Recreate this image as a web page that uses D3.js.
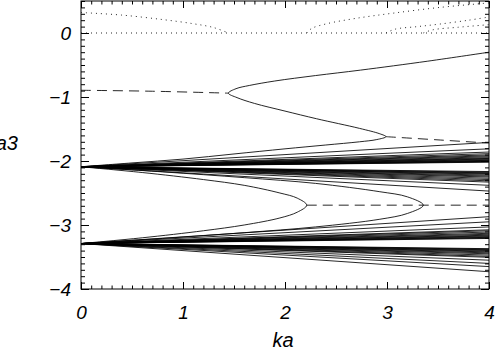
<!DOCTYPE html>
<html>
<head>
<meta charset="utf-8">
<script src="https://cdn.jsdelivr.net/npm/d3@7"></script>
<style>
  body { margin: 0; background: #fff; }
  svg { display: block; }
  text { font-family: "Liberation Sans", Arial, sans-serif; font-style: italic; }
</style>
</head>
<body>
<div id="grafica"></div>
<script>
// valores (ka, valor)
const xTicks = [0, 1, 2, 3, 4];
const yTicks = [-4, -3, -2, -1, 0];

const fanCenters = [-2.09, -3.29];
// desplazamientos de cada rama del abanico en ka = 4
const fanTopUp   = [0.38, 0.28, 0.23, 0.205, 0.185, 0.17, 0.155, 0.14, 0.13, 0.12, 0.11, 0.10, 0.092, 0.085, 0.078, 0.072];
const fanTopDown = [-0.075, -0.085, -0.095, -0.105, -0.115, -0.13, -0.145, -0.16, -0.18, -0.20, -0.22, -0.24, -0.29, -0.38];
const fanLowUp   = [0.08, 0.088, 0.097, 0.107, 0.118, 0.13, 0.145, 0.16, 0.18, 0.20, 0.215, 0.26, 0.34, 0.42];
const fanLowDown = [-0.08, -0.088, -0.097, -0.107, -0.118, -0.13, -0.145, -0.16, -0.18, -0.20, -0.215, -0.26, -0.31, -0.36, -0.44];

const curvaS = [[0,-2.09],[0.5,-2.03],[1.0,-1.97],[1.5,-1.89],[2.0,-1.81],[2.4,-1.75],[2.73,-1.70],[2.9,-1.665],[2.99,-1.62],
  [2.93,-1.575],[2.73,-1.49],[2.31,-1.34],[2.0,-1.22],[1.7,-1.10],[1.53,-1.01],[1.445,-0.94],[1.52,-0.87],[1.65,-0.82],
  [1.9,-0.75],[2.3,-0.665],[2.74,-0.58],[3.4,-0.44],[4,-0.30]];
const curvaV1 = [[0,-2.09],[0.6,-2.18],[1.2,-2.29],[1.6,-2.38],[1.95,-2.50],[2.12,-2.58],[2.213,-2.69],
  [2.12,-2.80],[1.95,-2.89],[1.6,-3.00],[1.2,-3.09],[0.6,-3.20],[0,-3.29]];
const curvaV2 = [[0,-2.09],[0.8,-2.17],[1.6,-2.26],[2.3,-2.35],[2.93,-2.48],[3.2,-2.56],[3.356,-2.69],
  [3.2,-2.82],[2.93,-2.91],[2.3,-3.03],[1.6,-3.12],[0.8,-3.21],[0,-3.29]];

const rayadas = [
  [[0,-0.895],[0.7,-0.91],[1.445,-0.94]],
  [[2.99,-1.62],[3.5,-1.67],[4,-1.72]],
  [[2.213,-2.69],[4,-2.69]]
];
const punteadas = [
  [[0,0],[4,0]],
  [[0,0.32],[0.4,0.28],[0.8,0.21],[1.1,0.145],[1.3,0.085],[1.445,0]],
  [[2.213,0],[2.26,0.07],[2.41,0.145],[2.7,0.23],[3.06,0.31],[3.52,0.40],[4,0.47]],
  [[2.99,0],[3.08,0.06],[3.3,0.10],[3.52,0.14],[3.8,0.20],[4,0.25]],
  [[3.356,0],[3.45,0.05],[3.7,0.09],[4,0.13]]
];

const width = 495, height = 352;
const margin = {top: 1, right: 6, bottom: 63, left: 81};

const svg = d3.select("#grafica").append("svg")
    .attr("width", width)
    .attr("height", height);

const x = d3.scaleLinear().domain([0, 4]).range([margin.left, width - margin.right]);
const y = d3.scaleLinear().domain([-4, 0.5]).range([height - margin.bottom, margin.top]);

svg.append("clipPath").attr("id", "area")
  .append("rect")
    .attr("x", x(0)).attr("y", y(0.5))
    .attr("width", x(4) - x(0)).attr("height", y(-4) - y(0.5));

const linea = d3.line().x(d => x(d[0])).y(d => y(d[1])).curve(d3.curveCatmullRom.alpha(0.5));

const g = svg.append("g").attr("clip-path", "url(#area)")
    .attr("fill", "none").attr("stroke", "#000").attr("stroke-width", 0.85);

// abanicos
let rectas = [];
fanTopUp.concat(fanTopDown).forEach(o => rectas.push([[0, fanCenters[0]], [4, fanCenters[0] + o]]));
fanLowUp.concat(fanLowDown).forEach(o => rectas.push([[0, fanCenters[1]], [4, fanCenters[1] + o]]));

g.selectAll(".recta").data(rectas).join("path")
    .attr("class", "recta")
    .attr("d", linea);

g.selectAll(".curva").data([curvaS, curvaV1, curvaV2]).join("path")
    .attr("class", "curva")
    .attr("d", linea);

g.selectAll(".rayada").data(rayadas).join("path")
    .attr("class", "rayada")
    .attr("stroke-dasharray", "10,6")
    .attr("d", linea);

g.selectAll(".punteada").data(punteadas).join("path")
    .attr("class", "punteada")
    .attr("stroke-dasharray", "1,4")
    .attr("d", linea);

// marco y ticks
svg.append("rect")
    .attr("x", x(0)).attr("y", y(0.5))
    .attr("width", x(4) - x(0)).attr("height", y(-4) - y(0.5))
    .attr("fill", "none").attr("stroke", "#000").attr("stroke-width", 1);

function ejes(sel, hacerEje, mayores, menores, largo, largoMenor, fmtMayor) {
  sel.append("g").call(hacerEje().tickValues(menores).tickSize(-largoMenor).tickFormat(""));
  sel.append("g").call(hacerEje().tickValues(mayores).tickSize(-largo).tickFormat(fmtMayor));
  sel.selectAll(".domain").remove();
}

const xMenores = x.ticks(40), yMenores = y.ticks(45);
const fmt = d => d < 0 ? "\u2212" + Math.abs(d) : String(d);
const vacio = () => "";

const abajo = svg.append("g").attr("transform", `translate(0,${y(-4)})`);
ejes(abajo, () => d3.axisBottom(x).tickPadding(17), xTicks, xMenores, 7, 3.5, fmt);
const arriba = svg.append("g").attr("transform", `translate(0,${y(0.5)})`);
ejes(arriba, () => d3.axisTop(x), xTicks, xMenores, 7, 3.5, vacio);
const izq = svg.append("g").attr("transform", `translate(${x(0)},0)`);
ejes(izq, () => d3.axisLeft(y).tickPadding(10), yTicks, yMenores, 8, 4, fmt);
const der = svg.append("g").attr("transform", `translate(${x(4)},0)`);
ejes(der, () => d3.axisRight(y), yTicks, yMenores, 8, 4, vacio);

svg.selectAll(".tick line").attr("stroke", "#000");
svg.selectAll(".tick text").attr("font-size", 19).attr("fill", "#000")
    .style("font-family", "'Liberation Sans', Arial, sans-serif").style("font-style", "italic");

// etiquetas
svg.append("text")
    .attr("x", x(2) - 2).attr("y", 347)
    .attr("text-anchor", "middle")
    .attr("font-size", 20)
    .text("ka");

svg.append("text")
    .attr("x", 18).attr("y", 150)
    .attr("text-anchor", "end")
    .attr("font-size", 20)
    .text("Ωa3");
</script>
</body>
</html>
